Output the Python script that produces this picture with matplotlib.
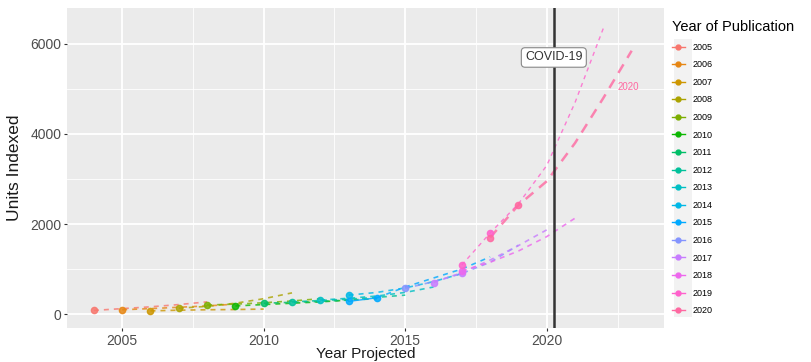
import numpy as np
import matplotlib
matplotlib.use("Agg")
import matplotlib.pyplot as plt
from matplotlib.lines import Line2D
from matplotlib.patches import Rectangle

plt.rcParams["font.family"] = ["Liberation Sans", "DejaVu Sans"]

# publication years (legend levels)
pub_years = [2005, 2006, 2007, 2008, 2009, 2010, 2011, 2012,
             2013, 2014, 2015, 2016, 2017, 2018, 2019, 2020]

# observed points per publication year
obs_x = {
    2005: [2004], 2006: [2005], 2007: [2006], 2008: [2007],
    2009: [2008], 2010: [2009], 2011: [2010], 2012: [2011],
    2013: [2012], 2014: [2013], 2015: [2013, 2014], 2016: [2015],
    2017: [2016, 2017], 2018: [2017], 2019: [2017, 2018], 2020: [2018, 2019],
}
obs_y = {
    2005: [80], 2006: [95], 2007: [70], 2008: [130],
    2009: [200], 2010: [180], 2011: [240], 2012: [270],
    2013: [310], 2014: [420], 2015: [280, 360], 2016: [570],
    2017: [700, 920], 2018: [960], 2019: [1090, 1800], 2020: [1700, 2420],
}

# projections (dashed)
proj_x = {
    2005: [2004, 2005, 2006, 2007, 2008],
    2006: [2005, 2006, 2007, 2008, 2009],
    2007: [2006, 2007, 2008, 2009, 2010],
    2008: [2007, 2008, 2009, 2010, 2011],
    2009: [2008, 2009, 2010, 2011, 2012],
    2010: [2009, 2010, 2011, 2012, 2013],
    2011: [2010, 2011, 2012, 2013, 2014],
    2012: [2011, 2012, 2013, 2014, 2015],
    2013: [2012, 2013, 2014, 2015, 2016],
    2014: [2013, 2014, 2015, 2016, 2017],
    2015: [2014, 2015, 2016, 2017, 2018],
    2016: [2015, 2016, 2017, 2018, 2019],
    2017: [2016, 2017, 2018, 2019, 2020],
    2018: [2017, 2018, 2019, 2020, 2021],
    2019: [2017, 2018, 2019, 2020, 2021, 2022],
    2020: [2018, 2019, 2020, 2021, 2022, 2023],
}
proj_y = {
    2005: [80, 120, 160, 210, 270],
    2006: [95, 120, 150, 180, 220],
    2007: [70, 85, 95, 100, 110],
    2008: [130, 170, 240, 340, 470],
    2009: [200, 220, 250, 290, 340],
    2010: [180, 210, 240, 270, 310],
    2011: [240, 260, 280, 310, 340],
    2012: [270, 300, 330, 370, 420],
    2013: [310, 350, 400, 480, 600],
    2014: [420, 480, 580, 720, 900],
    2015: [360, 600, 800, 1000, 1270],
    2016: [570, 720, 900, 1150, 1530],
    2017: [700, 920, 1200, 1520, 1870],
    2018: [960, 1150, 1400, 1720, 2130],
    2019: [1090, 1800, 2450, 3300, 4700, 6350],
    2020: [1700, 2420, 2950, 3800, 4800, 5850],
}

# series whose observed points are joined by a solid line
solid_obs = [2015]

covid_year = 2020.25
covid_label = "COVID-19"


def hue_color(h, l=65.0, c=100.0):
    # ggplot2 default hue palette: polar LUV -> sRGB
    hr = np.deg2rad(h)
    u, v = c * np.cos(hr), c * np.sin(hr)
    Xn, Yn, Zn = 95.047, 100.0, 108.883
    un = 4 * Xn / (Xn + 15 * Yn + 3 * Zn)
    vn = 9 * Yn / (Xn + 15 * Yn + 3 * Zn)
    Y = Yn * ((l + 16) / 116) ** 3
    up = u / (13 * l) + un
    vp = v / (13 * l) + vn
    X = Y * 9 * up / (4 * vp)
    Z = Y * (12 - 3 * up - 20 * vp) / (4 * vp)
    X, Y, Z = X / 100, Y / 100, Z / 100
    r = 3.2406 * X - 1.5372 * Y - 0.4986 * Z
    g = -0.9689 * X + 1.8758 * Y + 0.0415 * Z
    b = 0.0557 * X - 0.2040 * Y + 1.0570 * Z
    out = []
    for ch in (r, g, b):
        ch = 12.92 * ch if ch <= 0.0031308 else 1.055 * ch ** (1 / 2.4) - 0.055
        out.append(min(max(ch, 0), 1))
    return tuple(out)


n = len(pub_years)
hues = np.linspace(15, 375, n + 1)[:n]
colors = {yr: hue_color(h) for yr, h in zip(pub_years, hues)}

fig = plt.figure(figsize=(8.12, 3.62), dpi=100)
ax = fig.add_axes([0.0825, 0.094, 0.7355, 0.884])
ax.set_facecolor("#EBEBEB")

for yr in pub_years:
    col = colors[yr]
    lw = 1.2
    dash = (3, 3)
    if yr == 2020:
        lw, dash = 1.8, (4, 3)
    elif yr == 2019:
        lw, dash = 1.0, (3, 3)
    ax.plot(proj_x[yr], proj_y[yr], color=col, lw=lw, dashes=dash, alpha=0.8, zorder=3)
    ls = "-" if yr in solid_obs else "none"
    ax.plot(obs_x[yr], obs_y[yr], color=col, lw=1.0, ls=ls, marker="o", ms=4.5,
            alpha=0.85, zorder=4)

ax.axvline(covid_year, color="#333333", lw=1.8, zorder=5)
ax.text(covid_year, 5700, covid_label, ha="center", va="center", fontsize=9,
        color="#333333", zorder=6,
        bbox=dict(boxstyle="round,pad=0.3", fc="white", ec="#888888", lw=0.8))
ax.text(2022.5, 5040, "2020", color=colors[2020], fontsize=7, ha="left", va="center", zorder=6)

ax.set_xlim(2003.05, 2024.15)
ax.set_ylim(-310, 6800)
ax.set_xticks([2005, 2010, 2015, 2020])
ax.set_xticks([2007.5, 2012.5, 2017.5, 2022.5], minor=True)
ax.set_yticks([0, 2000, 4000, 6000])
ax.set_yticks([1000, 3000, 5000], minor=True)
ax.grid(which="major", color="white", lw=1.3)
ax.grid(which="minor", color="white", lw=0.6)
ax.set_axisbelow(True)
for s in ax.spines.values():
    s.set_visible(False)
ax.tick_params(which="major", length=2.5, color="#333333", labelsize=10,
               labelcolor="#4D4D4D", pad=1.5)
ax.tick_params(which="minor", length=0)
ax.set_xlabel("Year Projected", fontsize=11, color="#1A1A1A", va="top")
ax.xaxis.set_label_coords(0.5, -0.06)
ax.set_ylabel("Units Indexed", fontsize=12.5, color="#1A1A1A")
ax.yaxis.set_label_coords(-0.076, 0.5)

# legend
fig.patches.append(Rectangle((674 / 812, 1 - 317 / 362), 18 / 812, 278 / 362,
                             transform=fig.transFigure, fc="#F2F2F2", ec="none", zorder=0))
handles = [Line2D([], [], color=colors[yr], lw=1.0, marker="o", ms=3.5) for yr in pub_years]
fig.legend(handles, [str(y) for y in pub_years], title="Year of Publication",
           loc="upper left", bbox_to_anchor=(664 / 812, 1 - 12 / 362),
           frameon=False, fontsize=6.5, title_fontsize=10.5, handlelength=1.4,
           handletextpad=0.9, labelspacing=0.95, alignment="left")

fig.savefig("out.png", dpi=100)
